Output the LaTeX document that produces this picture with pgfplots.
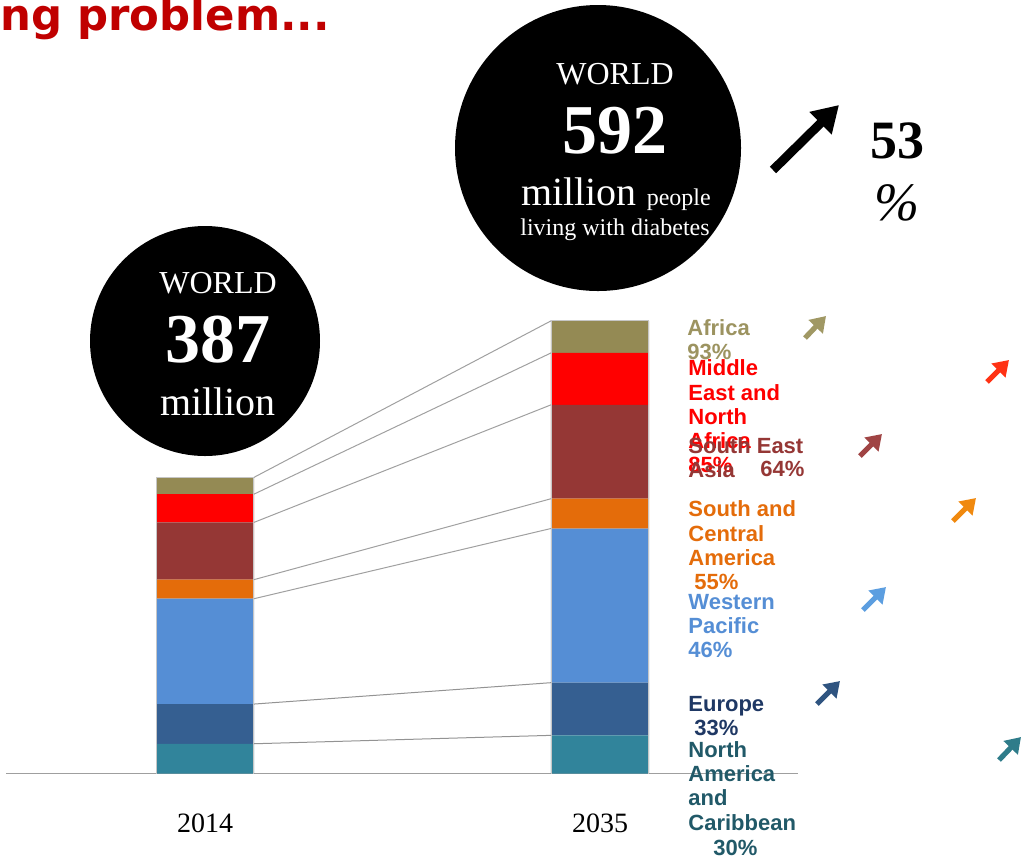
\documentclass[border=0pt]{standalone}
\usepackage{fontspec}
\setmainfont{Liberation Serif}
\newfontfamily\lab{Liberation Sans}
\newfontfamily\ttl{DejaVu Sans}
\usepackage{pgfplots}
\usepackage{pgfplotstable}
\pgfplotsset{compat=1.18}
\usetikzlibrary{arrows.meta}

% segment colours
\definecolor{cnac}{RGB}{49,132,155}
\definecolor{ceur}{RGB}{53,95,145}
\definecolor{cwp}{RGB}{85,142,213}
\definecolor{csca}{RGB}{228,108,10}
\definecolor{csea}{RGB}{149,55,53}
\definecolor{cmena}{RGB}{255,0,0}
\definecolor{cafr}{RGB}{148,138,84}
% label colours
\definecolor{tafr}{RGB}{156,147,96}
\definecolor{tsea}{RGB}{149,55,53}
\definecolor{teur}{RGB}{31,56,100}
\definecolor{tnac}{RGB}{33,89,104}
\definecolor{ttitle}{RGB}{192,0,0}
\definecolor{linec}{RGB}{160,160,160}

% millions of people with diabetes, 2014 (x=0) and 2035 (x=1)
\pgfplotstableread{
x nac eur wp sca sea mena afr
0 39 52 138 25 75 37 22
1 50 69 202 39 123 68 42
}\regions

\newcommand\lbl[4]{%
  \foreach \t [count=\i from 0] in {#4} {%
    \node[anchor=base west, inner sep=0pt, text=#3,
      font=\lab\bfseries\fontsize{11}{12}\selectfont] at (#1,{#2+24.3*\i}) {\t};}}

\pgfplotsset{frame/.style={
  at={(3pt,-386.75pt)}, anchor=south west, scale only axis,
  width=396pt, height=229pt,
  xmin=-0.5038, xmax=1.5013, ymin=0, ymax=600, clip=false}}

\begin{document}
\begin{tikzpicture}[x=0.5pt,y=-0.5pt]
\path[use as bounding box] (0,0) rectangle (1021,859);

\begin{axis}[frame,
  ybar stacked, bar width=49pt,
  axis x line*=bottom, axis y line=none,
  x axis line style={draw=gray!75, line width=0.75pt, -},
  xtick={0,1}, xticklabels={2014,2035}, major tick length=0pt,
  xticklabel style={font=\fontsize{14}{16}\selectfont, anchor=base, yshift=-29.25pt},
]
\addplot[fill=cnac, draw=none] table[x=x,y=nac]{\regions};
\addplot[fill=ceur, draw=none] table[x=x,y=eur]{\regions};
\addplot[fill=cwp, draw=none] table[x=x,y=wp]{\regions};
\addplot[fill=csca, draw=none] table[x=x,y=sca]{\regions};
\addplot[fill=csea, draw=none] table[x=x,y=sea]{\regions};
\addplot[fill=cmena, draw=none] table[x=x,y=mena]{\regions};
\addplot[fill=cafr, draw=none] table[x=x,y=afr]{\regions};
\end{axis}

% connectors between the cumulative totals and bar outlines
\begin{axis}[frame, hide axis]
\addplot[gray!45, line width=0.5pt] coordinates {(-0.124,0) (-0.124,388) (0.124,388) (0.124,0)};
\addplot[gray!45, line width=0.5pt] coordinates {(0.876,0) (0.876,593) (1.124,593) (1.124,0)};
\addplot[gray!85, line width=0.5pt] coordinates {(0.124,39) (0.876,50)};
\addplot[gray!85, line width=0.5pt] coordinates {(0.124,91) (0.876,119)};
\addplot[linec, line width=0.5pt] coordinates {(0.124,229) (0.876,321)};
\addplot[linec, line width=0.5pt] coordinates {(0.124,254) (0.876,360)};
\addplot[linec, line width=0.5pt] coordinates {(0.124,329) (0.876,483)};
\addplot[linec, line width=0.5pt] coordinates {(0.124,366) (0.876,551)};
\addplot[linec, line width=0.5pt] coordinates {(0.124,388) (0.876,593)};
\end{axis}

% title (cut by the left edge in the source)
\node[anchor=base west, inner sep=0pt, text=ttitle,
  font=\ttl\bfseries\fontsize{21.7}{24}\selectfont] at (0,30.5) {ng problem...};

% world totals
\fill[black] (205,341) circle (57.5pt);
\fill[black] (598,148) circle (71.5pt);
\begin{scope}[every node/.style={text=white, inner sep=0pt, anchor=base}]
\node[font=\fontsize{16}{18}\selectfont] at (218,293) {WORLD};
\node[font=\bfseries\fontsize{35}{38}\selectfont] at (218,362) {387};
\node[font=\fontsize{20}{22}\selectfont] at (218,415) {million};
\node[font=\fontsize{16}{18}\selectfont] at (615,84) {WORLD};
\node[font=\bfseries\fontsize{35}{38}\selectfont] at (615,153) {592};
\node at (616,205) {\fontsize{20}{22}\selectfont million \fontsize{12}{14}\selectfont people};
\node[font=\fontsize{12}{14}\selectfont] at (615,235) {living with diabetes};
\end{scope}

% overall growth
\draw[line width=4.5pt, -{Triangle[length=13pt, width=15pt]}] (773,170) -- (839,105);
\node[anchor=base, inner sep=0pt, font=\bfseries\fontsize{27}{30}\selectfont] at (897,158) {53};
\node[anchor=base, inner sep=0pt, font=\itshape\fontsize{27}{30}\selectfont] at (897,220) {\%};

% region labels
\lbl{687}{335}{tafr}{Africa,93\%}
\lbl{688}{375.7}{red}{Middle,East and,North,Africa,85\%}
\lbl{688}{453.3}{tsea}{South East,Asia}
\lbl{760}{476.7}{tsea}{64\%}
\lbl{688}{516.7}{csca}{South and,Central,America}
\lbl{694}{589}{csca}{55\%}
\lbl{688}{609}{cwp}{Western,Pacific,46\%}
\lbl{688}{711.7}{teur}{Europe}
\lbl{694}{735}{teur}{33\%}
\lbl{688}{757.3}{tnac}{North,America,and,Caribbean}
\lbl{713}{855}{tnac}{30\%}

% growth arrows per region
\tikzset{ga/.style={line width=2.6pt, -{Triangle[length=7.5pt, width=9.5pt]}}}
\draw[ga, color={rgb,255:red,160;green,152;blue,100}] (805,338) -- (826,316);
\draw[ga, color={rgb,255:red,255;green,50;blue,20}] (987,382) -- (1009,360);
\draw[ga, color={rgb,255:red,160;green,68;blue,68}] (860,456) -- (882,434);
\draw[ga, color={rgb,255:red,240;green,137;blue,15}] (953,521) -- (976,498);
\draw[ga, color={rgb,255:red,92;green,158;blue,224}] (863,610) -- (886,587);
\draw[ga, color={rgb,255:red,47;green,84;blue,128}] (817,704) -- (840,681);
\draw[ga, color={rgb,255:red,47;green,124;blue,138}] (999,760) -- (1021,737);
\end{tikzpicture}
\end{document}
